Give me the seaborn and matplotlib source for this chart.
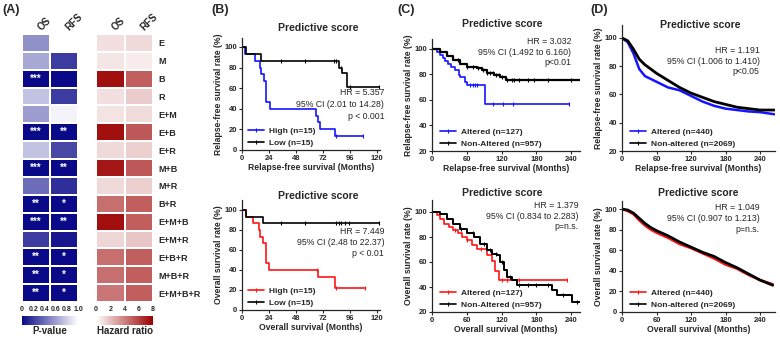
import numpy as np
import pandas as pd
import matplotlib
matplotlib.use('Agg')
import matplotlib.pyplot as plt
import seaborn as sns
from matplotlib.colors import LinearSegmentedColormap, Normalize
from matplotlib.cm import ScalarMappable
from matplotlib.lines import Line2D

# ---- data: panel A ----
rows = ['E', 'M', 'B', 'R', 'E+M', 'E+B', 'E+R', 'M+B', 'M+R', 'B+R',
        'E+M+B', 'E+M+R', 'E+B+R', 'M+B+R', 'E+M+B+R']
p_os = [0.55, 0.65, 0.0, 0.75, 0.6, 0.0, 0.75, 0.0, 0.4, 0.0, 0.0, 0.2, 0.0, 0.0, 0.0]
p_rfs = [1.0, 0.2, 0.0, 0.2, 0.95, 0.0, 0.25, 0.0, 0.15, 0.0, 0.0, 0.05, 0.0, 0.0, 0.0]
star_os = ['', '', '***', '', '', '***', '', '***', '', '**', '***', '', '**', '**', '**']
star_rfs = ['', '', '', '', '', '**', '', '**', '', '*', '**', '', '*', '*', '*']
hr_os = [1.0, 0.8, 7.5, 1.0, 0.9, 7.5, 1.2, 7.3, 1.2, 4.5, 7.5, 1.3, 4.5, 4.5, 4.3]
hr_rfs = [1.2, 0.6, 5.0, 1.6, 1.1, 5.2, 1.5, 5.2, 1.5, 5.0, 5.0, 1.8, 5.0, 5.0, 5.0]

# ---- data: panel B (n=15 per group) ----
b_rfs_high_t = [0, 3, 12, 16, 17, 20, 21, 25, 66, 68, 69, 83, 108]
b_rfs_high_s = [100, 93.3, 86.7, 80, 73.3, 66.7, 46.7, 40, 33.3, 26.7, 20, 13.3, 13.3]
b_rfs_high_c = [84, 108]
b_rfs_low_t = [0, 4, 17, 86, 89, 93, 122]
b_rfs_low_s = [100, 93.3, 86.7, 80, 75, 61, 61]
b_rfs_low_c = [35, 56, 82, 84, 88, 96, 122]

b_os_high_t = [0, 4, 10, 15, 16, 19, 21, 24, 68, 83, 109]
b_os_high_s = [100, 93.3, 86.7, 80, 73.3, 66.7, 46.7, 40, 33.3, 22.2, 22.2]
b_os_high_c = [67, 84, 109]
b_os_low_t = [0, 4, 19, 122]
b_os_low_s = [100, 93.3, 86.7, 86.7]
b_os_low_c = [35, 56, 84, 86, 88, 92, 95, 122]

# ---- data: panel C ----
c_rfs_alt_t = [0, 9, 14, 19, 23, 28, 33, 39, 46, 49, 56, 60, 91, 236]
c_rfs_alt_s = [100, 98, 95, 92.7, 90.6, 88, 86, 83.5, 79.6, 77.8, 74, 71.5, 57, 57]
c_rfs_alt_c = [66, 70, 74, 78, 105, 122, 140, 236]
c_rfs_non_t = [0, 14, 26, 37, 49, 60, 78, 86, 95, 106, 118, 127, 256]
c_rfs_non_s = [100, 98, 94.5, 91.4, 88, 86, 85, 83.5, 81, 79.6, 78, 75.7, 75.7]
c_rfs_non_c = [45, 60, 70, 80, 88, 95, 100, 105, 110, 115, 120, 130, 138, 142, 150, 165, 175, 200, 240]

c_os_alt_t = [0, 9, 14, 20, 29, 37, 44, 52, 60, 69, 78, 95, 104, 109, 115, 232]
c_os_alt_s = [100, 97.3, 94.7, 90.7, 88, 86, 83, 80, 77.3, 73.3, 70.4, 65.3, 61, 53, 45.3, 45.3]
c_os_alt_c = [40, 60, 85, 120, 130, 150, 232]
c_os_non_t = [0, 14, 26, 37, 49, 60, 72, 83, 95, 104, 112, 118, 124, 129, 138, 147, 207, 216, 242, 256]
c_os_non_s = [100, 98.7, 94.7, 90.7, 86.7, 83.5, 80, 74.7, 69.3, 66.7, 65.3, 60, 53.3, 48, 45.3, 42, 38, 33.3, 28, 28]
c_os_non_c = [50, 70, 90, 100, 110, 120, 135, 150, 165, 180, 200, 225, 250]

# ---- data: panel D ----
d_rfs_alt_t = [0, 10, 20, 30, 40, 50, 60, 80, 100, 120, 140, 160, 180, 200, 220, 240, 265]
d_rfs_alt_s = [100, 97, 89, 78, 73, 71, 69, 65, 63, 59, 55, 52, 50, 49, 48, 47.5, 46]
d_rfs_non_t = [0, 10, 20, 30, 40, 50, 60, 80, 100, 120, 140, 160, 180, 200, 220, 240, 265]
d_rfs_non_s = [100, 98, 92, 85, 81, 78, 75, 70, 65, 61, 58, 55, 53, 51, 50, 49, 49]

d_os_alt_t = [0, 10, 20, 30, 40, 50, 60, 80, 100, 120, 140, 160, 180, 200, 220, 240, 262]
d_os_alt_s = [100, 98, 95, 89, 84, 80, 77, 72, 66, 62, 57, 52, 46, 42, 36, 31, 27]
d_os_non_t = [0, 10, 20, 30, 40, 50, 60, 80, 100, 120, 140, 160, 180, 200, 220, 240, 262]
d_os_non_s = [100, 99, 96, 91, 86, 82, 79, 74, 68, 63, 58, 54, 48, 43, 37, 31, 26]

sns.set_style('ticks')
plt.rcParams['font.family'] = ['Liberation Sans', 'DejaVu Sans']
plt.rcParams['axes.linewidth'] = 0.9

W, H = 780, 340
fig = plt.figure(figsize=(W / 100, H / 100), dpi=100)


def add_ax(l, t, r, b):
    return fig.add_axes([l / W, 1 - b / H, (r - l) / W, (b - t) / H])


def ftext(x, y, s, **kw):
    fig.text(x / W, 1 - y / H, s, **kw)


# ---------------- panel A ----------------
blues = LinearSegmentedColormap.from_list('pb', ['#0a0a88', '#ffffff'])
reds = LinearSegmentedColormap.from_list('hr', ['#ffffff', '#9c0000'])

pdf = pd.DataFrame({'OS': p_os, 'RFS': p_rfs}, index=rows)
sdf = np.array([star_os, star_rfs]).T
hdf = pd.DataFrame({'OS': hr_os, 'RFS': hr_rfs}, index=rows)

axp = add_ax(22, 34, 78, 302)
sns.heatmap(pdf, ax=axp, cmap=blues, vmin=0, vmax=1, cbar=False, linewidths=1.3,
            linecolor='white', annot=sdf, fmt='',
            annot_kws=dict(color='white', fontsize=7, fontweight='bold'),
            yticklabels=False)
axh = add_ax(96, 34, 153, 302)
sns.heatmap(hdf, ax=axh, cmap=reds, vmin=0, vmax=8, cbar=False, linewidths=1.3,
            linecolor='white')
for a in (axp, axh):
    a.xaxis.tick_top()
    a.set_xticklabels(['OS', 'RFS'], rotation=45, ha='left', va='bottom',
                      fontsize=7, fontweight='bold')
    a.tick_params(axis='both', length=0, pad=1)
    a.set_xlabel('')
    a.set_ylabel('')
axh.yaxis.tick_right()
axh.set_yticklabels(rows, rotation=0, fontsize=6.5, fontweight='bold')
axh.tick_params(axis='y', pad=4)

for l, r, cm, vmax, ticks, tl, lab in [
        (22, 78, blues, 1, [0, 0.2, 0.4, 0.6, 0.8, 1.0], ['0', '0.2', '0.4', '0.6', '0.8', '1.0'], 'P-value'),
        (96, 153, reds, 8, [0, 2, 4, 6, 8], ['0', '2', '4', '6', '8'], 'Hazard ratio')]:
    cax = add_ax(l, 316, r, 325)
    cb = fig.colorbar(ScalarMappable(Normalize(0, vmax), cm), cax=cax, orientation='horizontal')
    cb.outline.set_visible(False)
    cb.set_ticks(ticks)
    cb.set_ticklabels(tl)
    cax.tick_params(axis='x', top=False, bottom=True, labeltop=True, labelbottom=False,
                    direction='in', length=2, width=0.6, color='white', labelsize=5, pad=2)
    for lbl in cax.get_xticklabels():
        lbl.set_fontweight('bold')
    cax.set_xlabel(lab, fontsize=7, fontweight='bold', labelpad=1)
    cax.xaxis.set_label_position('bottom')


# ---------------- KM helper ----------------
def km(ax, t, s, cens, color, lw=1.2, steps=True):
    sns.lineplot(x=t, y=s, ax=ax, color=color, lw=lw, estimator=None, sort=False,
                 drawstyle='steps-post' if steps else 'default')
    if cens:
        idx = np.searchsorted(t, cens, side='right') - 1
        cy = np.array(s)[np.clip(idx, 0, len(s) - 1)]
        ax.plot(cens, cy, ls='none', marker='|', ms=3, mew=0.8, color=color)


def style_km(ax, xlim, ylim, xticks, yticks, xlabel, ylabel):
    ax.set_xlim(*xlim)
    ax.set_ylim(*ylim)
    ax.set_xticks(xticks)
    ax.set_yticks(yticks)
    sns.despine(ax=ax)
    ax.tick_params(labelsize=5.5, length=2.5, width=0.8, pad=1)
    for lbl in ax.get_xticklabels() + ax.get_yticklabels():
        lbl.set_fontweight('bold')
    ax.set_xlabel(xlabel, fontsize=6.2, fontweight='bold', labelpad=1)
    ax.set_ylabel(ylabel, fontsize=6.2, fontweight='bold', labelpad=1)


def stats(ax, x, ys, lines):
    for y, s in zip(ys, lines):
        ax.text(x, y, s, transform=ax.transAxes, ha='right', va='center', fontsize=6.3)


def leg(ax, items, anchor):
    hs = [Line2D([], [], color=c, lw=1.2, marker='|', ms=3, mew=0.8) for c, _ in items]
    ax.legend(hs, [n for _, n in items], loc='lower left', bbox_to_anchor=anchor,
              frameon=False, prop=dict(size=6, weight='bold'), handlelength=1.9,
              handletextpad=0.6, labelspacing=0.5, borderaxespad=0)


BLUE, RED, BLACK = '#1515ff', '#ff1515', '#000000'
rfs_y = 'Relapse-free survival rate (%)'
os_y = 'Overall survival rate (%)'

# ---------------- panel B ----------------
ax = add_ax(242, 38, 380, 150)
km(ax, b_rfs_high_t, b_rfs_high_s, b_rfs_high_c, BLUE)
km(ax, b_rfs_low_t, b_rfs_low_s, b_rfs_low_c, BLACK)
style_km(ax, (0, 122.7), (0, 108.7), [0, 24, 48, 72, 96, 120], range(0, 101, 20),
         'Relapse-free survival (Months)', rfs_y)
stats(ax, 1.03, [0.51, 0.41, 0.30], ['HR = 5.357', '95% CI (2.01 to 14.28)', 'p < 0.001'])
leg(ax, [(BLUE, 'High (n=15)'), (BLACK, 'Low (n=15)')], (0.02, 0.0))

ax = add_ax(242, 200, 380, 310)
km(ax, b_os_high_t, b_os_high_s, b_os_high_c, RED)
km(ax, b_os_low_t, b_os_low_s, b_os_low_c, BLACK)
style_km(ax, (0, 122.7), (0, 110), [0, 24, 48, 72, 96, 120], range(0, 101, 20),
         'Overall survival (Months)', os_y)
stats(ax, 1.03, [0.71, 0.61, 0.51], ['HR = 7.449', '95% CI (2.48 to 22.37)', 'p < 0.01'])
leg(ax, [(RED, 'High (n=15)'), (BLACK, 'Low (n=15)')], (0.02, 0.0))

# ---------------- panel C ----------------
ax = add_ax(432, 39, 580, 151)
km(ax, c_rfs_alt_t, c_rfs_alt_s, c_rfs_alt_c, BLUE)
km(ax, c_rfs_non_t, c_rfs_non_s, c_rfs_non_c, BLACK, lw=1.6)
style_km(ax, (0, 255), (20, 107.8), [0, 60, 120, 180, 240], range(20, 101, 20),
         'Relapse-free survival (Months)', rfs_y)
stats(ax, 0.94, [0.98, 0.88, 0.79], ['HR = 3.032', '95% CI (1.492 to 6.160)', 'p<0.01'])
leg(ax, [(BLUE, 'Altered (n=127)'), (BLACK, 'Non-Altered (n=957)')], (0.03, 0.0))

ax = add_ax(432, 200, 580, 312)
km(ax, c_os_alt_t, c_os_alt_s, c_os_alt_c, RED)
km(ax, c_os_non_t, c_os_non_s, c_os_non_c, BLACK, lw=1.4)
style_km(ax, (0, 255), (20, 109.6), [0, 60, 120, 180, 240], range(20, 101, 20),
         'Overall survival (Months)', os_y)
stats(ax, 0.99, [0.95, 0.85, 0.76], ['HR = 1.379', '95% CI (0.834 to 2.283)', 'p=n.s.'])
leg(ax, [(RED, 'Altered (n=127)'), (BLACK, 'Non-Altered (n=957)')], (0.03, 0.0))

# ---------------- panel D ----------------
ax = add_ax(622, 25, 775, 151)
km(ax, d_rfs_alt_t, d_rfs_alt_s, None, BLUE, lw=1.8, steps=False)
km(ax, d_rfs_non_t, d_rfs_non_s, None, BLACK, lw=2.0, steps=False)
style_km(ax, (0, 266), (20, 109.2), [0, 60, 120, 180, 240], range(20, 101, 20),
         'Relapse-free survival (Months)', rfs_y)
stats(ax, 0.90, [0.80, 0.71, 0.63], ['HR = 1.191', '95% CI (1.006 to 1.410)', 'p<0.05'])
leg(ax, [(BLUE, 'Altered (n=440)'), (BLACK, 'Non-altered (n=2069)')], (0.03, 0.0))

ax = add_ax(622, 201, 775, 312)
km(ax, d_os_alt_t, d_os_alt_s, None, RED, lw=1.8, steps=False)
km(ax, d_os_non_t, d_os_non_s, None, BLACK, lw=2.0, steps=False)
style_km(ax, (0, 266), (0, 107.8), [0, 60, 120, 180, 240], range(0, 101, 20),
         'Overall survival (Months)', os_y)
stats(ax, 0.90, [0.94, 0.84, 0.74], ['HR = 1.049', '95% CI (0.907 to 1.213)', 'p=n.s.'])
leg(ax, [(RED, 'Altered (n=440)'), (BLACK, 'Non-altered (n=2069)')], (0.03, 0.0))

# ---------------- titles and panel labels ----------------
for x, y in [(318, 28), (318, 196), (502, 24), (502, 193), (700, 25), (698, 193)]:
    ftext(x, y, 'Predictive score', ha='center', va='center', fontsize=7.5, fontweight='bold')
for x, y, s in [(2, 10, '(A)'), (211, 10, '(B)'), (397, 10, '(C)'), (590, 10, '(D)')]:
    ftext(x, y, s, ha='left', va='center', fontsize=9, fontweight='bold')

fig.savefig('out.png', dpi=100)
